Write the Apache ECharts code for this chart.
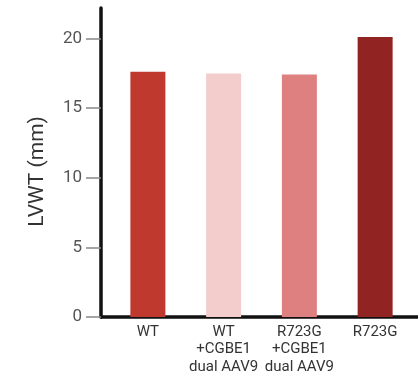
<!DOCTYPE html>
<html>
<head>
<meta charset="utf-8">
<script src="https://cdn.jsdelivr.net/npm/echarts@6/dist/echarts.min.js"></script>
<style>
  html, body { margin: 0; padding: 0; background: #fff; }
  #chart { width: 418px; height: 377px; }
</style>
</head>
<body>
<div id="chart"></div>
<script>
var groups = ["WT", "WT\n+CGBE1\ndual AAV9", "R723G\n+CGBE1\ndual AAV9", "R723G"];
var lvwt = [17.62, 17.5, 17.42, 20.12];
var barColors = ["#c0392f", "#f3cccc", "#de8080", "#922323"];
var yTicks = [0, 5, 10, 15, 20];

var yMax = 22.2;
var font = "Roboto, 'Noto Sans', sans-serif";

var myChart = echarts.init(document.getElementById("chart"));
var option = {
  animation: false,
  grid: [
    // bars
    { left: 110, right: 5, top: 8, bottom: 60 },
    // axis lines
    { left: 101, right: 0, top: 8, bottom: 60 },
  ],
  xAxis: [
    {
      type: "category",
      gridIndex: 0,
      data: groups,
      axisLine: { show: false },
      axisTick: { show: false },
      axisLabel: {
        fontFamily: font,
        fontSize: 15,
        lineHeight: 17.5,
        color: "#333",
        margin: 6,
        interval: 0,
      },
    },
    {
      type: "value",
      gridIndex: 1,
      min: 0,
      max: 1,
      axisLine: { show: true, lineStyle: { color: "#111", width: 3.5 } },
      axisTick: { show: false },
      axisLabel: { show: false },
      splitLine: { show: false },
    },
  ],
  yAxis: [
    {
      type: "value",
      gridIndex: 0,
      min: 0,
      max: yMax,
      show: false,
      splitLine: { show: false },
    },
    {
      type: "value",
      gridIndex: 1,
      min: 0,
      max: yMax,
      name: "LVWT (mm)",
      nameLocation: "middle",
      nameGap: 53,
      nameTextStyle: {
        fontFamily: font,
        fontSize: 21,
        color: "#333",
        padding: [0, 18, 0, 0],
      },
      axisLine: { show: true, lineStyle: { color: "#111", width: 3.5 } },
      axisTick: {
        show: true,
        length: 15,
        customValues: yTicks,
        lineStyle: { color: "#888", width: 1.5 },
      },
      axisLabel: {
        customValues: yTicks,
        fontFamily: font,
        fontSize: 17,
        color: "#555",
        margin: 19,
      },
      splitLine: { show: false },
    },
  ],
  series: [
    {
      type: "bar",
      xAxisIndex: 0,
      yAxisIndex: 0,
      barWidth: 35,
      data: lvwt.map(function (v, i) {
        return { value: v, itemStyle: { color: barColors[i] } };
      }),
    },
  ],
};
myChart.setOption(option);
</script>
</body>
</html>
